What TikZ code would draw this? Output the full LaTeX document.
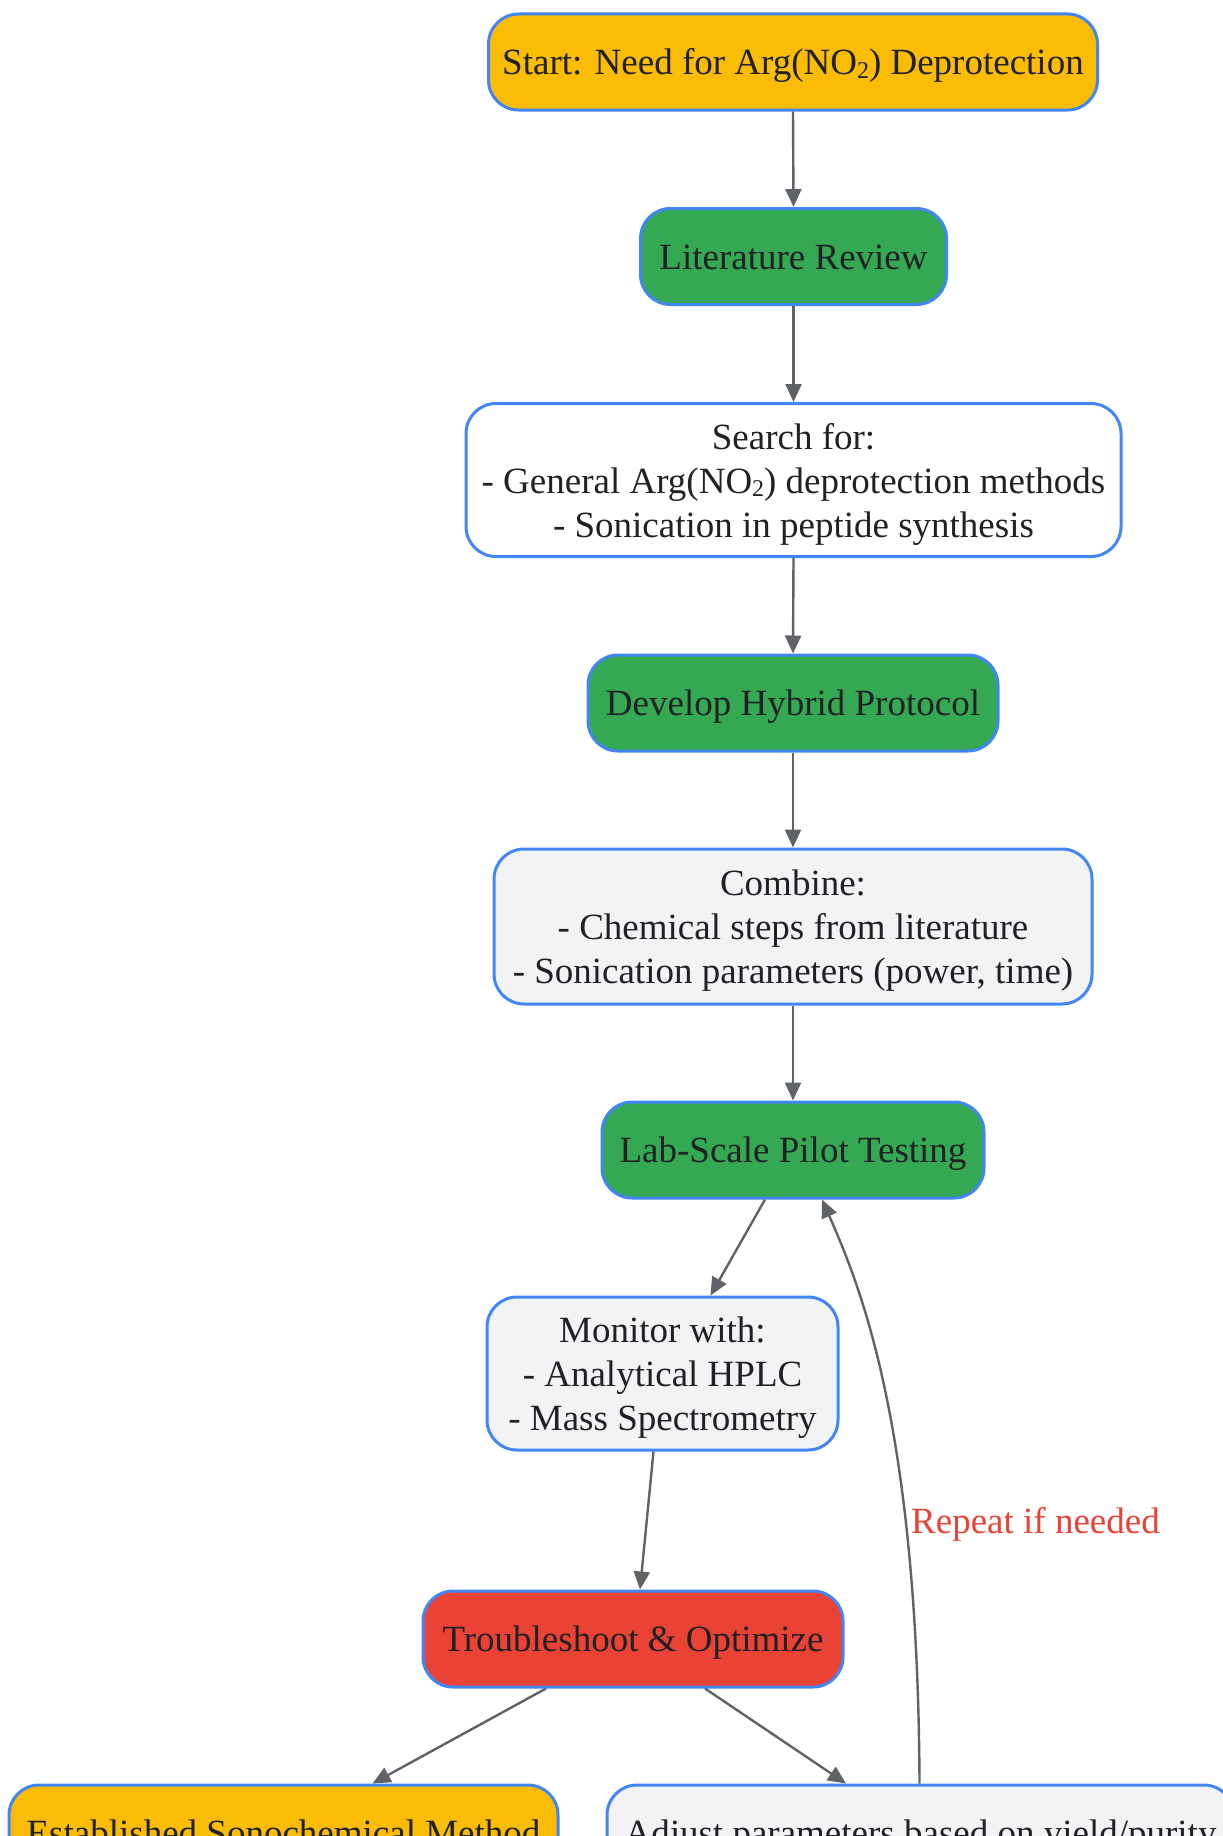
\documentclass[tikz,border=0pt]{standalone}
\usepackage{fontspec}
\setmainfont{Liberation Serif}
\usetikzlibrary{arrows.meta,calc}
\definecolor{cyellow}{HTML}{FBBC05}
\definecolor{cgreen}{HTML}{34A853}
\definecolor{cred}{HTML}{EA4335}
\definecolor{cgray}{HTML}{F1F3F4}
\definecolor{cborder}{HTML}{4285F4}
\definecolor{ctext}{HTML}{202124}
\definecolor{cedge}{HTML}{5F6368}
\newcommand\stwo{\raisebox{-0.1em}{\fontsize{24}{24}\selectfont 2}}
\begin{document}
\begin{tikzpicture}[x=1pt,y=1pt,
  box/.style={draw=cborder, line width=3pt, rounded corners=30pt, inner sep=0pt,
    align=center, text=ctext, font=\fontsize{37}{44}\selectfont},
  one/.style={box, text height=34pt, text depth=9pt},
  multi/.style={box, text depth=-1.5pt},
  yel/.style={fill=cyellow},
  grn/.style={fill=cgreen},
  rdb/.style={fill=cred},
  gry/.style={fill=cgray},
  wht/.style={fill=white},
  edge/.style={draw=cedge, line width=2.4pt, -{Triangle[length=18pt,width=16pt]}, color=cedge}
]
\useasboundingbox (0,0) rectangle (1223,-1836);
\node[one, yel, minimum width=609, minimum height=96] (start) at (793,-62) {Start: Need for Arg(NO\stwo) Deprotection};
\node[one, grn, minimum width=306, minimum height=96] (lit) at (793.5,-256.5) {Literature Review};
\node[multi, wht, minimum width=655, minimum height=153] (search) at (793.5,-480) {Search for:\\- General Arg(NO\stwo) deprotection methods\\- Sonication in peptide synthesis};
\node[one, grn, minimum width=410, minimum height=96] (dev) at (793,-703) {Develop Hybrid Protocol};
\node[multi, gry, minimum width=598, minimum height=155] (comb) at (793,-926.5) {Combine:\\- Chemical steps from literature\\- Sonication parameters (power, time)};
\node[one, grn, minimum width=382, minimum height=96] (lab) at (793,-1150) {Lab-Scale Pilot Testing};
\node[multi, gry, minimum width=351, minimum height=153] (mon) at (662.5,-1373.5) {Monitor with:\\- Analytical HPLC\\- Mass Spectrometry};
\node[one, rdb, minimum width=420, minimum height=96] (trb) at (633,-1639) {Troubleshoot \& Optimize};
\node[one, yel, minimum width=549, minimum height=96] (est) at (283.5,-1833) {Established Sonochemical Method};
\node[one, gry, minimum width=627, minimum height=96] (adj) at (920.5,-1833) {Adjust parameters based on yield/purity};

\draw[edge] (start.south) -- (lit.north);
\draw[edge] (lit.south) -- (search.north);
\draw[edge] (search.south) -- (dev.north);
\draw[edge] (dev.south) -- (comb.north);
\draw[edge] (comb.south) -- (lab.north);
\draw[edge] ($(lab.south)+(-28,0)$) -- ($(mon.north)+(48,0)$);
\draw[edge] ($(mon.south)+(-9,0)$) -- ($(trb.north)+(7,0)$);
\draw[edge] ($(trb.south)+(-87,0)$) -- ($(est.north)+(89,0)$);
\draw[edge] ($(trb.south)+(72,0)$) -- ($(adj.north)+(-74.5,0)$);
\draw[edge] ($(adj.north)+(-1,0)$) .. controls (918,-1430) and (862,-1290) .. ($(lab.south)+(29,0)$);
\node[anchor=west, inner sep=0pt, text=cred, font=\fontsize{37}{44}\selectfont] (lbl) at (911,-1524) {Repeat if needed};
\end{tikzpicture}
\end{document}
